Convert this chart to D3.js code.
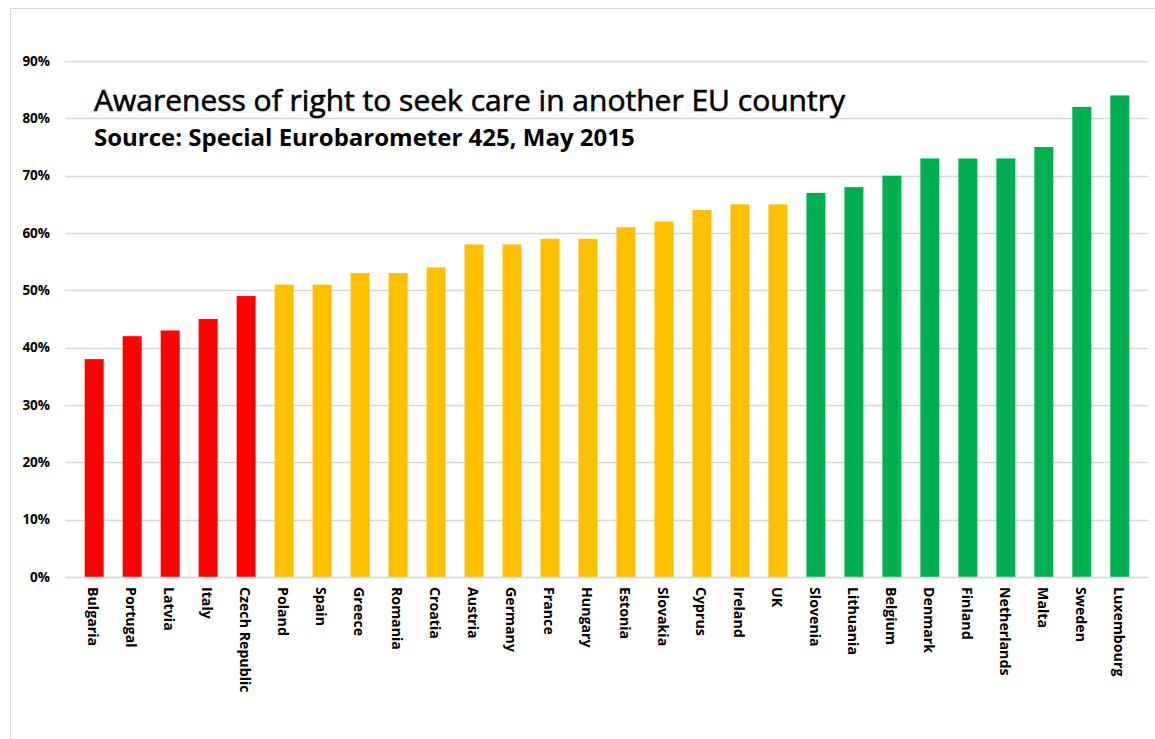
<!DOCTYPE html>
<html><head><meta charset="utf-8">
<script src="https://cdn.jsdelivr.net/npm/d3@7"></script>
<style>
body{margin:0;background:#fff;}
svg{display:block;}
text{font-family:"Open Sans","Liberation Sans",Arial,sans-serif;}
</style></head>
<body>
<svg id="chart" width="1155" height="739"></svg>
<script>
const countries = ["Bulgaria","Portugal","Latvia","Italy","Czech Republic","Poland","Spain","Greece","Romania","Croatia","Austria","Germany","France","Hungary","Estonia","Slovakia","Cyprus","Ireland","UK","Slovenia","Lithuania","Belgium","Denmark","Finland","Netherlands","Malta","Sweden","Luxembourg"];
const values = [38,42,43,45,49,51,51,53,53,54,58,58,59,59,61,62,64,65,65,67,68,70,73,73,73,75,82,84];
const groups = ["low","low","low","low","low","mid","mid","mid","mid","mid","mid","mid","mid","mid","mid","mid","mid","mid","mid","high","high","high","high","high","high","high","high","high"];
const groupColors = {low:"#FF0000", mid:"#FFC000", high:"#00B050"};
const yTicks = [0,10,20,30,40,50,60,70,80,90];
const title = "Awareness of right to seek care in another EU country";
const subtitle = "Source: Special Eurobarometer 425, May 2015";

const svg = d3.select("#chart");
// outer frame
svg.append("rect").attr("x",10.5).attr("y",8.5).attr("width",1160).attr("height",760)
  .attr("fill","none").attr("stroke","#d9d9d9").attr("stroke-width",1);

const x = d3.scaleBand().domain(countries).range([65.7,1148.3]).padding(0.5);
const y = d3.scaleLinear().domain([0,90]).range([577,61]);

// gridlines
svg.append("g").selectAll("line").data(yTicks).join("line")
  .attr("x1",65).attr("x2",1148)
  .attr("y1",d=>Math.round(y(d))+0.5).attr("y2",d=>Math.round(y(d))+0.5)
  .attr("stroke","#d9d9d9").attr("stroke-width",1.3);

// y axis labels
const yAxis = d3.axisLeft(y).tickValues(yTicks).tickFormat(d=>d+"%").tickSize(0).tickPadding(0);
const ya = svg.append("g").attr("transform","translate(50,0)").call(yAxis);
ya.select(".domain").remove();
ya.selectAll("text").attr("font-size",13.5).attr("font-weight","bold").attr("fill","#000")
  .attr("font-family","'Open Sans','Liberation Sans',Arial,sans-serif");

// bars
svg.append("g").selectAll("rect").data(countries).join("rect")
  .attr("x",d=>x(d)).attr("width",x.bandwidth())
  .attr("y",(d,i)=>y(values[i])).attr("height",(d,i)=>y(0)-y(values[i]))
  .attr("fill",(d,i)=>groupColors[groups[i]]);

// x axis labels
const xAxis = d3.axisBottom(x).tickSize(0).tickPadding(0);
const xa = svg.append("g").attr("transform","translate(0,577)").call(xAxis);
xa.select(".domain").attr("stroke","#d9d9d9").attr("stroke-width",1.5);
xa.selectAll("text")
  .attr("font-size",14.2).attr("font-weight","bold").attr("fill","#000")
  .attr("font-family","'Open Sans','Liberation Sans',Arial,sans-serif")
  .attr("text-anchor","start").attr("dy",null).attr("y",0)
  .attr("transform","translate(-2,10) rotate(90)")
  .attr("dominant-baseline","middle");

// titles
svg.append("text").attr("x",94).attr("y",111).text(title)
  .attr("font-size",30).attr("font-family","Lato,'Open Sans',sans-serif").attr("font-weight","normal")
  .attr("fill","#000").attr("stroke","#000").attr("stroke-width",0.6);
svg.append("text").attr("x",94).attr("y",146).text(subtitle)
  .attr("font-size",24).attr("font-family","Lato,'Open Sans',sans-serif").attr("font-weight","bold").attr("fill","#000");
</script>
</body></html>
